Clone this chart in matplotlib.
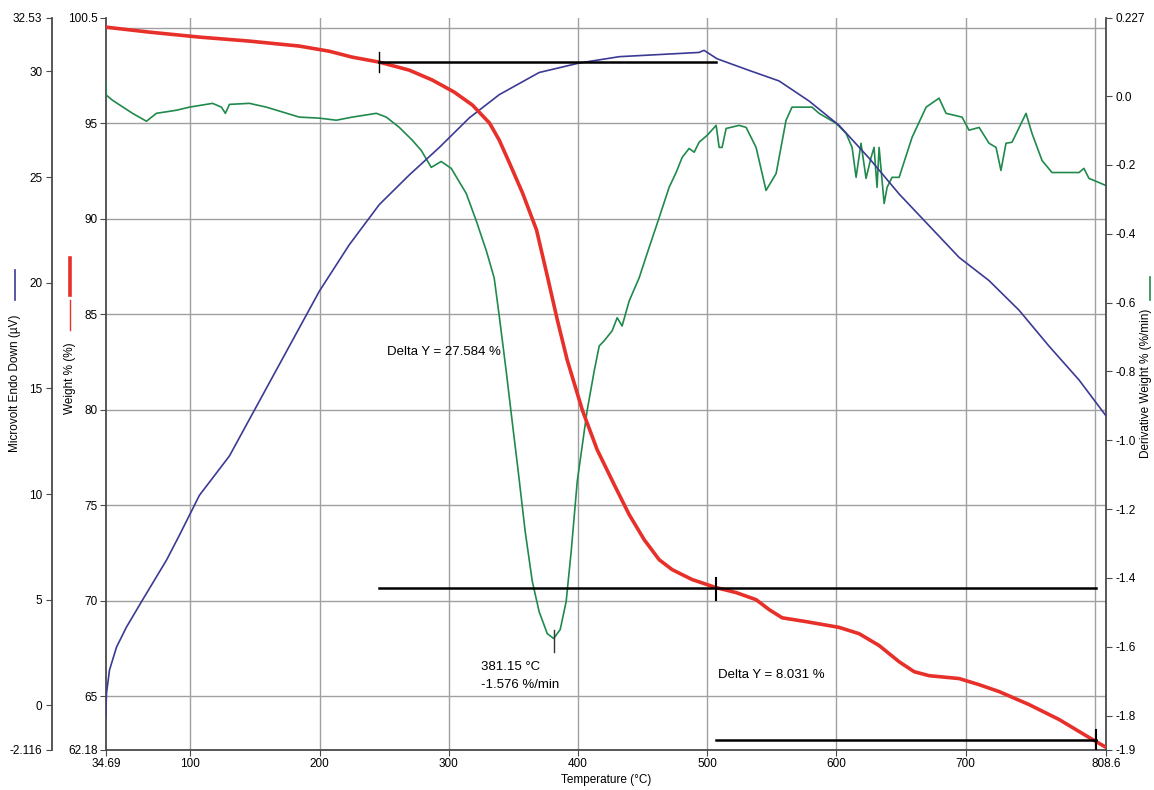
import numpy as np
import matplotlib.pyplot as plt
from matplotlib.lines import Line2D

plt.rcParams['font.family'] = ['Liberation Sans', 'DejaVu Sans']

# Weight % (red)
temp_w = [34.69, 68.3, 107.0, 145.7, 184.3, 207.5, 225.3, 246.2, 269.4, 287.3, 304.2,
          318.3, 331.5, 339.0, 347.0, 357.1, 367.9, 376.4, 384.0, 391.6, 403.3, 414.8,
          428.0, 439.6, 451.2, 462.8, 472.9, 488.4, 506.9, 522.4, 537.8, 547.9, 558.0,
          576.5, 602.0, 617.5, 633.0, 648.5, 660.1, 671.7, 694.9, 710.4, 725.8, 749.0,
          772.2, 795.4, 808.6]
weight = [100.02, 99.76, 99.5, 99.29, 99.03, 98.76, 98.45, 98.19, 97.77, 97.25, 96.62,
          95.94, 95.0, 94.11, 92.9, 91.33, 89.4, 86.94, 84.69, 82.6, 79.98, 77.9,
          76.07, 74.5, 73.19, 72.14, 71.62, 71.1, 70.68, 70.42, 70.05, 69.53, 69.1,
          68.9, 68.6, 68.27, 67.65, 66.8, 66.28, 66.07, 65.92, 65.6, 65.24, 64.56,
          63.78, 62.84, 62.32]

# Microvolt Endo Down (blue)
temp_v = [34.4, 35.1, 37.4, 42.8, 50.5, 62.9, 81.5, 91.5, 107.0, 130.2, 153.4, 176.6,
          199.8, 223.0, 246.2, 269.4, 292.6, 315.8, 339.0, 369.9, 401.0, 432.0, 462.8,
          493.7, 497.5, 507.6, 532.4, 555.6, 578.8, 602.0, 625.2, 648.5, 671.7, 694.9,
          718.1, 741.3, 764.5, 787.7, 808.6]
microvolt = [-0.56, 0.58, 1.67, 2.75, 3.7, 4.98, 6.87, 8.05, 9.94, 11.8, 14.4, 17.0,
             19.6, 21.8, 23.7, 25.1, 26.4, 27.8, 28.9, 29.95, 30.4, 30.7, 30.8,
             30.9, 31.0, 30.6, 30.05, 29.55, 28.6, 27.45, 25.9, 24.2, 22.7, 21.2,
             20.1, 18.7, 17.0, 15.4, 13.7]

# Derivative Weight % (green)
temp_d = [34.69, 34.9, 39.7, 55.2, 66.0, 73.7, 89.2, 99.3, 117.1, 124.0, 127.1, 130.2,
          145.7, 158.8, 184.3, 199.8, 212.9, 225.3, 243.9, 251.6, 261.7, 271.7, 278.7,
          286.4, 294.1, 301.9, 313.5, 321.2, 329.0, 335.1, 339.0, 344.4, 349.0, 353.7,
          359.1, 364.6, 369.9, 376.2, 381.15, 386.2, 390.8, 394.7, 399.4, 407.0, 412.5,
          416.4, 420.2, 426.4, 430.3, 434.1, 439.6, 447.3, 455.0, 462.8, 470.5, 475.9,
          480.6, 486.0, 489.9, 493.7, 499.9, 506.9, 509.2, 511.5, 514.6, 524.7, 530.1,
          537.8, 545.5, 553.3, 561.0, 565.6, 581.1, 586.5, 599.7, 607.4, 612.1, 615.2,
          619.0, 622.9, 626.8, 629.1, 631.4, 633.0, 636.9, 639.2, 643.0, 648.5, 658.5,
          669.4, 679.4, 684.8, 697.2, 702.6, 710.4, 718.1, 723.5, 727.3, 731.2, 735.9,
          746.7, 751.3, 759.1, 766.8, 787.7, 791.5, 795.4, 803.1, 808.6]
deriv = [0.04, 0.003, -0.012, -0.05, -0.073, -0.05, -0.041, -0.032, -0.021, -0.032, -0.05, -0.024,
         -0.021, -0.032, -0.061, -0.064, -0.07, -0.061, -0.05, -0.061, -0.091, -0.128, -0.158,
         -0.207, -0.19, -0.21, -0.283, -0.362, -0.449, -0.528, -0.638, -0.799, -0.944, -1.09,
         -1.265, -1.41, -1.498, -1.562, -1.576, -1.55, -1.469, -1.323, -1.119, -0.915, -0.799,
         -0.726, -0.711, -0.682, -0.644, -0.668, -0.595, -0.528, -0.44, -0.353, -0.265, -0.222,
         -0.178, -0.152, -0.163, -0.134, -0.114, -0.085, -0.149, -0.149, -0.094, -0.085, -0.091,
         -0.149, -0.274, -0.225, -0.07, -0.032, -0.032, -0.05, -0.079, -0.108, -0.149, -0.236,
         -0.137, -0.239, -0.178, -0.149, -0.265, -0.149, -0.312, -0.265, -0.236, -0.236, -0.12,
         -0.032, -0.006, -0.05, -0.061, -0.099, -0.091, -0.137, -0.149, -0.216, -0.137, -0.134,
         -0.05, -0.108, -0.187, -0.222, -0.222, -0.21, -0.239, -0.251, -0.26]

x_ticks = [34.69, 100, 200, 300, 400, 500, 600, 700, 808.6]
x_labels = ['34.69', '100', '200', '300', '400', '500', '600', '700', '808.6']
x_grid = [100, 200, 300, 400, 500, 600, 700, 800]
w_ticks = [62.18, 65, 70, 75, 80, 85, 90, 95, 100.5]
w_labels = ['62.18', '65', '70', '75', '80', '85', '90', '95', '100.5']
w_grid = [65, 70, 75, 80, 85, 90, 95, 100]
v_ticks = [-2.116, 0, 5, 10, 15, 20, 25, 30, 32.53]
v_labels = ['-2.116', '0', '5', '10', '15', '20', '25', '30', '32.53']
d_ticks = [-1.9, -1.8, -1.6, -1.4, -1.2, -1.0, -0.8, -0.6, -0.4, -0.2, 0.0, 0.227]
d_labels = ['-1.9', '-1.8', '-1.6', '-1.4', '-1.2', '-1.0', '-0.8', '-0.6', '-0.4', '-0.2', '0.0', '0.227']

RED = '#e8302a'
BLUE = '#3b3a94'
GREEN = '#1f8a4c'
SPINE = '#4a4a4a'
GRID = '#a0a0a0'
FS = 8.5

fig = plt.figure(figsize=(11.54, 7.90), dpi=100)
ax = fig.add_axes([106 / 1154, 40 / 790, 1000 / 1154, 732 / 790])
ax_d = ax.twinx()
ax_v = ax.twinx()
ax_top = ax.twinx()

# main (weight) axis: grid + spines
ax.set_xlim(34.69, 808.6)
ax.set_ylim(62.18, 100.5)
ax.set_xticks(x_ticks)
ax.set_xticklabels(x_labels)
ax.set_yticks(w_ticks)
ax.set_yticklabels(w_labels)
for gx in x_grid:
    ax.axvline(gx, color=GRID, lw=1, zorder=0)
for gy in w_grid:
    ax.axhline(gy, color=GRID, lw=1, zorder=0)
ax.tick_params(labelsize=FS, length=4, color=SPINE, pad=2)
for s in ['top', 'right']:
    ax.spines[s].set_visible(False)
for s in ['left', 'bottom']:
    ax.spines[s].set_color(SPINE)
    ax.spines[s].set_linewidth(1.3)
ax.set_xlabel('Temperature (°C)', fontsize=FS, labelpad=3)

# derivative axis (right)
ax_d.set_ylim(-1.9, 0.227)
ax_d.set_yticks(d_ticks)
ax_d.set_yticklabels(d_labels)
ax_d.tick_params(labelsize=FS, length=4, color=SPINE, pad=3)
for s in ['top', 'left', 'bottom']:
    ax_d.spines[s].set_visible(False)
ax_d.spines['right'].set_color(SPINE)
ax_d.spines['right'].set_linewidth(1.3)
ax_d.plot(temp_d, deriv, color=GREEN, lw=1.2)
ax_d.plot([381.15, 381.15], [-1.551, -1.614], color='#333333', lw=1)

# microvolt axis (outer left)
ax_v.set_ylim(-2.116, 32.53)
ax_v.yaxis.set_ticks_position('left')
ax_v.yaxis.set_label_position('left')
ax_v.spines['left'].set_position(('axes', -0.054))
ax_v.spines['left'].set_visible(True)
ax_v.spines['left'].set_color(SPINE)
ax_v.spines['left'].set_linewidth(1.3)
for s in ['top', 'right', 'bottom']:
    ax_v.spines[s].set_visible(False)
ax_v.set_yticks(v_ticks)
ax_v.set_yticklabels(v_labels)
ax_v.tick_params(labelsize=FS, length=4, color=SPINE, pad=3)
ax_v.plot(temp_v, microvolt, color=BLUE, lw=1.2)

# top overlay in weight units: red curve + measurement lines
ax_top.set_ylim(62.18, 100.5)
ax_top.set_yticks([])
for s in ax_top.spines.values():
    s.set_visible(False)
ax_top.plot(temp_w, weight, color=RED, lw=2.6, solid_capstyle='round')

ax_top.plot([246.2, 506.9], [98.19, 98.19], color='black', lw=1.8)
ax_top.plot([246.2, 246.2], [98.71, 97.67], color='black', lw=1)
ax_top.plot([246.2, 800.8], [70.68, 70.68], color='black', lw=1.8)
ax_top.plot([506.9, 506.9], [71.19, 70.05], color='black', lw=1.5)
ax_top.plot([506.9, 800.8], [62.68, 62.68], color='black', lw=1.8)
ax_top.plot([800.8, 800.8], [63.24, 62.2], color='black', lw=1.5)

ax_top.text(252.5, 83.0, 'Delta Y = 27.584 %', fontsize=9.5, va='center', ha='left')
ax_top.text(325.2, 66.5, '381.15 °C', fontsize=9.5, va='center', ha='left')
ax_top.text(325.2, 65.6, '-1.576 %/min', fontsize=9.5, va='center', ha='left')
ax_top.text(508.4, 66.1, 'Delta Y = 8.031 %', fontsize=9.5, va='center', ha='left')

# axis titles with colour keys
def fy(py):
    return 1 - py / 790

fig.add_artist(Line2D([15 / 1154] * 2, [fy(270), fy(300)], color=BLUE, lw=1.2,
                      transform=fig.transFigure))
fig.text(15 / 1154, fy(383), 'Microvolt Endo Down (µV)', rotation=90, ha='center',
         va='center', fontsize=FS)
fig.add_artist(Line2D([70 / 1154] * 2, [fy(258), fy(295)], color=RED, lw=2.6,
                      transform=fig.transFigure))
fig.add_artist(Line2D([70 / 1154] * 2, [fy(300), fy(330)], color=RED, lw=1,
                      transform=fig.transFigure))
fig.text(70 / 1154, fy(378), 'Weight % (%)', rotation=90, ha='center',
         va='center', fontsize=FS)
fig.add_artist(Line2D([1150 / 1154] * 2, [fy(277), fy(300)], color=GREEN, lw=1.2,
                      transform=fig.transFigure))
fig.text(1146 / 1154, fy(383), 'Derivative Weight % (%/min)', rotation=90, ha='center',
         va='center', fontsize=FS)

fig.savefig('out.png', dpi=100)
